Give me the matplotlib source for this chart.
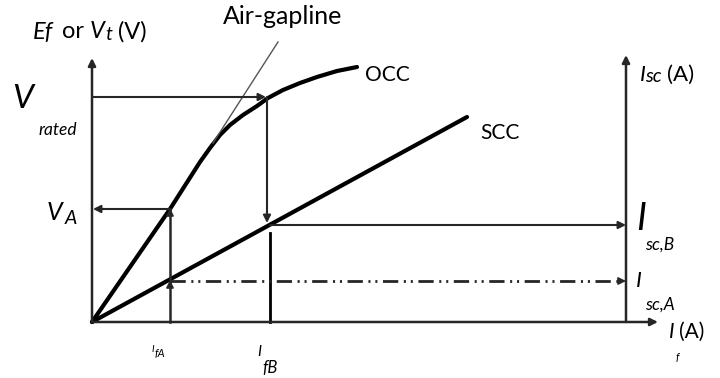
import matplotlib.pyplot as plt

# field current / voltage values (arbitrary units)
occ_if = [0, 78, 108, 118, 128, 138, 151, 165, 176, 191, 208, 225, 245, 265]
occ_ef = [0, 113, 160, 174, 187, 197, 207, 216, 224, 232, 239, 245, 251, 255]
scc_if = [0, 375]
scc_isc = [0, 205]
airgap_if = [121, 186]
airgap_ef = [179, 280]

if_A = 78
if_B = 176
V_A = 113
V_rated = 225
Isc_A = 41
Isc_B = 97

x_axis_end = 566
y_axis_end = 264
right_axis_x = 534
right_axis_end = 267

plt.rcParams['lines.scale_dashes'] = False
plt.rcParams['font.family'] = ['Lato', 'DejaVu Sans']

fig = plt.figure(figsize=(7.2, 3.78), dpi=100)
ax = fig.add_axes([0, 0, 1, 1])
ax.set_xlim(-92, 628)
ax.set_ylim(-56, 322)
ax.axis('off')

axis_col = '#262626'


def arrow(x0, y0, x1, y1, lw=1.6, ls='-', col=axis_col):
    ax.annotate('', xy=(x1, y1), xytext=(x0, y0),
                arrowprops=dict(arrowstyle='-|>', color=col, lw=lw, linestyle=ls,
                                mutation_scale=11, shrinkA=0, shrinkB=0))


# axes
arrow(0, 0, 0, y_axis_end, lw=1.8)
arrow(0, 0, x_axis_end, 0, lw=1.8)
arrow(right_axis_x, 0, right_axis_x, right_axis_end, lw=1.8)

# curves
ax.plot(occ_if, occ_ef, color='black', lw=3, solid_capstyle='round', solid_joinstyle='round')
ax.plot(scc_if, scc_isc, color='black', lw=3, solid_capstyle='round')
ax.plot(airgap_if, airgap_ef, color='#555555', lw=1)

# rated voltage construction
arrow(0, V_rated, if_B - 2, V_rated, lw=1.5)
arrow(if_B - 1, V_rated, if_B - 1, Isc_B + 2, lw=1.5)
arrow(if_B + 2, Isc_B, right_axis_x, Isc_B, lw=1.5)
ax.plot([if_B + 2, if_B + 2], [0, Isc_B - 8], color='black', lw=2)

# point A construction
ax.plot([if_A, if_A], [0, V_A], color=axis_col, lw=1.8)
arrow(if_A, V_A, 1, V_A, lw=1.5)
arrow(if_A, Isc_A - 6, if_A, Isc_A + 1, lw=1.2)
arrow(if_A, V_A - 6, if_A, V_A + 1, lw=1.2)
ax.plot([if_A, right_axis_x - 6], [Isc_A, Isc_A], color=axis_col, lw=2,
        linestyle=(0, (11, 4, 1.5, 3.5, 1.5, 4)))
arrow(right_axis_x - 8, Isc_A, right_axis_x, Isc_A, lw=1.2)

# labels
ax.text(-59, 290, 'Ef', fontsize=17, style='italic', va='center')
ax.text(-30, 290, 'or', fontsize=17, va='center')
ax.text(-2, 290, 'V', fontsize=17, style='italic', va='center')
ax.text(13, 288, 't', fontsize=14, style='italic', va='center')
ax.text(26, 290, '(V)', fontsize=17, va='center')
ax.text(131, 305, 'Air-gapline', fontsize=18, va='center')

ax.text(-80, 223, 'V', fontsize=24, style='italic', va='center')
ax.text(-54, 192, 'rated', fontsize=12.5, style='italic', va='center')
ax.text(-45, 109, 'V', fontsize=18, style='italic', va='center')
ax.text(-27, 104, 'A', fontsize=14, style='italic', va='center')

ax.text(273, 247, 'OCC', fontsize=15, va='center')
ax.text(388, 189, 'SCC', fontsize=15, va='center')

ax.text(548, 247, 'I', fontsize=16, style='italic', va='center')
ax.text(553, 246, 'sc', fontsize=14, style='italic', va='center')
ax.text(575, 247, '(A)', fontsize=16, va='center')

ax.text(544, 103, 'I', fontsize=27, style='italic', va='center')
ax.text(553, 77, 'sc,B', fontsize=12.5, style='italic', va='center')
ax.text(544, 41, 'I', fontsize=16, style='italic', va='center')
ax.text(553, 17, 'sc,A', fontsize=12.5, style='italic', va='center')

ax.text(577, -10, 'I', fontsize=15, style='italic', va='center')
ax.text(587, -10, '(A)', fontsize=15, va='center')
ax.text(584, -36, 'f', fontsize=8, style='italic', va='center')

ax.text(60, -27, 'I', fontsize=7, style='italic', va='center')
ax.text(63, -31, 'fA', fontsize=8, style='italic', va='center')
ax.text(165, -30, 'I', fontsize=11, style='italic', va='center')
ax.text(170, -46, 'fB', fontsize=12, style='italic', va='center')

fig.savefig('out.png', dpi=100)
